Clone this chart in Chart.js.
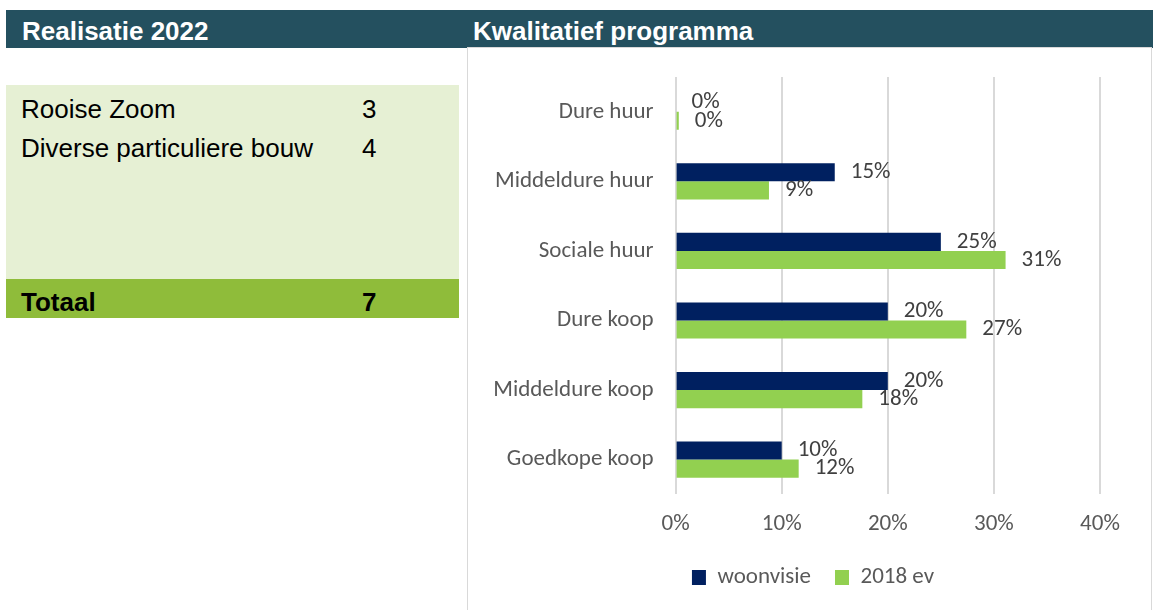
<!DOCTYPE html>
<html>
<head>
<meta charset="utf-8">
<script src="https://cdn.jsdelivr.net/npm/chart.js@4"></script>
<style>
  body { margin: 0; background: #fff; font-family: "Liberation Sans", Arial, sans-serif; }
  .kop { position: absolute; left: 6px; top: 10px; width: 1147px; height: 38px; background: #24505f; }
  .kop span { position: absolute; top: 6px; color: #fff; font-weight: bold; font-size: 26px; }
  .tabel { position: absolute; left: 6px; top: 85px; width: 453px; height: 194px; background: #e6f0d4; }
  .totaal { position: absolute; left: 6px; top: 279px; width: 453px; height: 39px; background: #8fbc3a; font-weight: bold; }
  .rij { position: absolute; left: 15px; font-size: 26px; color: #000; white-space: nowrap; }
  .num { position: absolute; left: 356px; font-size: 26px; color: #000; }
  .kader { position: absolute; left: 467px; top: 47px; width: 683px; height: 570px; border: 1px solid #d9d9d9; border-bottom: none; }
  .grafiek { position: absolute; left: 468px; top: 48px; width: 683px; height: 562px; }
</style>
</head>
<body>
<div class="kop">
  <span style="left:16px">Realisatie 2022</span>
  <span style="left:467px">Kwalitatief programma</span>
</div>
<div class="tabel">
  <div class="rij" style="top:9px">Rooise Zoom</div><div class="num" style="top:9px">3</div>
  <div class="rij" style="top:48px">Diverse particuliere bouw</div><div class="num" style="top:48px">4</div>
</div>
<div class="totaal">
  <div class="rij" style="top:8px">Totaal</div><div class="num" style="top:8px">7</div>
</div>
<div class="kader"></div>
<div class="grafiek"><canvas id="kwaliteit"></canvas></div>

<script>
// categorieen en reeksen (aandeel, 0..1)
const categorieen = ['Dure huur', 'Middeldure huur', 'Sociale huur', 'Dure koop', 'Middeldure koop', 'Goedkope koop'];
const woonvisie = [0, 0.15, 0.25, 0.20, 0.20, 0.10];
const ev2018 = [0.003, 0.088, 0.311, 0.274, 0.176, 0.116];
const asTicks = [0, 0.1, 0.2, 0.3, 0.4];

const lettertype = '"Carlito", "Lato", "Liberation Sans", sans-serif';
const grootte = 23;

// eigen plugin voor de percentages achter de balken
const labelPlugin = {
    id: 'percentages',
    afterDatasetsDraw(chart) {
        const ctx = chart.ctx;
        ctx.save();
        ctx.font = grootte + 'px ' + lettertype;
        ctx.fillStyle = '#404040';
        ctx.textAlign = 'left';
        ctx.textBaseline = 'middle';
        chart.data.datasets.forEach((ds, i) => {
            chart.getDatasetMeta(i).data.forEach((bar, j) => {
                ctx.fillText(Math.round(ds.data[j] * 100) + '%', bar.x + 16, bar.y);
            });
        });
        ctx.restore();
    }
};

// legenda iets compacter en naar rechts, zoals in Excel
const legendaPlugin = {
    id: 'legendaPositie',
    beforeLayout(chart) {
        const lg = chart.legend;
        if (lg && !lg._aangepast) {
            const fit = lg.fit;
            lg.fit = function () { fit.call(this); this.height -= 12; };
            lg._aangepast = true;
        }
    },
    afterLayout(chart) {
        const lg = chart.legend;
        lg.top -= 12; lg.bottom -= 12;
        lg.left += 29; lg.right += 29;
    }
};

new Chart(document.getElementById('kwaliteit'), {
    type: 'bar',
    data: {
        labels: categorieen,
        datasets: [
            { label: 'woonvisie', data: woonvisie, backgroundColor: '#002060' },
            { label: '2018 ev', data: ev2018, backgroundColor: '#92d050' }
        ]
    },
    options: {
        indexAxis: 'y',
        responsive: true,
        maintainAspectRatio: false,
        animation: false,
        datasets: { bar: { categoryPercentage: 0.52, barPercentage: 1.0 } },
        layout: { padding: { top: 29, right: 51, bottom: 11, left: 0 } },
        scales: {
            x: {
                min: 0, max: 0.4,
                afterBuildTicks(scale) { scale.ticks = asTicks.map(v => ({ value: v })); },
                grid: { color: '#d9d9d9', lineWidth: 2, drawTicks: false },
                border: { display: false },
                ticks: {
                    padding: 16,
                    color: '#595959',
                    font: { family: lettertype, size: grootte },
                    callback: v => Math.round(v * 100) + '%'
                }
            },
            y: {
                afterFit(scale) {
                    scale.width = 207.6;
                    scale.paddingTop = 0;
                    scale.paddingBottom = 0;
                },
                grid: { display: false, drawTicks: false },
                border: { display: false },
                ticks: {
                    padding: 22,
                    color: '#595959',
                    font: { family: lettertype, size: grootte }
                }
            }
        },
        plugins: {
            legend: {
                position: 'bottom',
                labels: {
                    boxWidth: 14,
                    boxHeight: 15,
                    padding: 24,
                    color: '#595959',
                    font: { family: lettertype, size: grootte }
                }
            },
            tooltip: { enabled: false }
        }
    },
    plugins: [labelPlugin, legendaPlugin]
});
</script>
</body>
</html>
